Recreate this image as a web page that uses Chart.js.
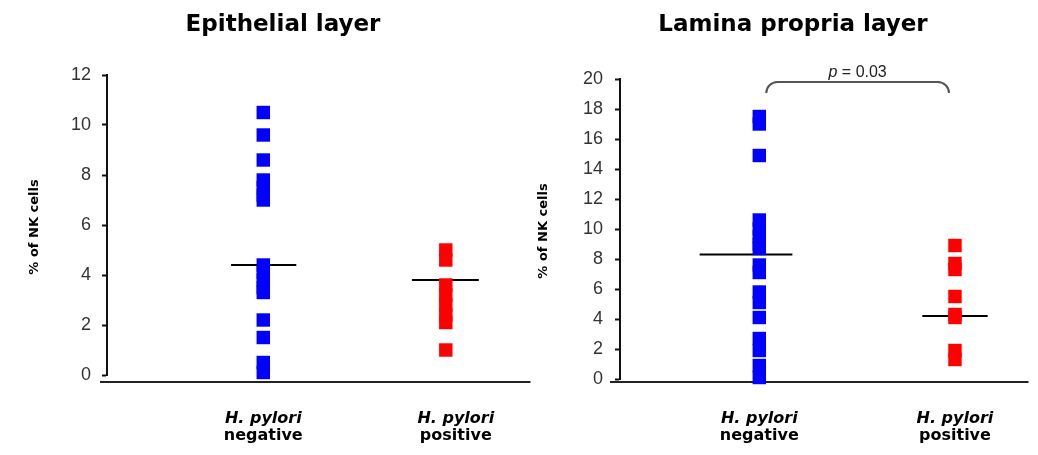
<!DOCTYPE html>
<html>
<head>
<meta charset="utf-8">
<script src="https://cdn.jsdelivr.net/npm/chart.js@4.4.0/dist/chart.umd.min.js"></script>
<style>
  body { margin: 0; background: #fff; }
  #wrap { position: relative; width: 1038px; height: 455px; }
  canvas { position: absolute; top: 0; }
</style>
</head>
<body>
<div id="wrap">
  <canvas id="epi" width="540" height="455" style="left:0"></canvas>
  <canvas id="lp" width="538" height="455" style="left:500px"></canvas>
</div>
<script>
// groups shown on both panels
const groups = ['negative', 'positive'];

// % of NK cells, epithelial layer
const epiNegative = [10.5, 9.6, 8.6, 7.8, 7.5, 7.2, 7.0, 4.4, 4.1, 3.8, 3.5, 3.3, 2.2, 1.5, 0.5, 0.1];
const epiPositive = [5.0, 4.6, 3.6, 3.2, 2.8, 2.4, 2.1, 1.0];
const epiMeans = [4.4, 3.8];
const epiTicks = [0, 2, 4, 6, 8, 10, 12];

// % of NK cells, lamina propria layer
const lpNegative = [17.5, 17.0, 14.9, 10.6, 10.0, 9.5, 9.0, 8.7, 7.6, 7.1, 5.8, 5.1, 4.1, 2.7, 1.9, 0.9, 0.1];
const lpPositive = [8.9, 7.7, 7.3, 5.5, 4.3, 4.1, 1.9, 1.3];
const lpMeans = [8.3, 4.2];
const lpTicks = [0, 2, 4, 6, 8, 10, 12, 14, 16, 18, 20];
const lpPValue = '0.03';

const colors = ['#0000ff', '#ff0000'];

// titles, axis labels, baseline and group labels drawn around each panel
const panelDecor = {
  id: 'panelDecor',
  beforeDatasetsDraw(chart, args, opts) {
    const ctx = chart.ctx;
    const area = chart.chartArea;
    ctx.save();
    ctx.strokeStyle = '#222';
    ctx.lineWidth = 2;
    ctx.beginPath();
    ctx.moveTo(opts.baseStart, area.bottom + opts.baseGap);
    ctx.lineTo(area.right, area.bottom + opts.baseGap);
    ctx.stroke();
    ctx.restore();
  },
  afterDraw(chart, args, opts) {
    const ctx = chart.ctx;
    const area = chart.chartArea;
    const x = chart.scales.x;
    ctx.save();
    ctx.fillStyle = '#000';
    ctx.textAlign = 'center';
    ctx.textBaseline = 'alphabetic';
    ctx.font = 'bold 23px "DejaVu Sans"';
    ctx.fillText(opts.title, opts.titleX, 31);

    ctx.save();
    ctx.translate(opts.yTitleX, (area.top + area.bottom) / 2 + 2);
    ctx.rotate(-Math.PI / 2);
    ctx.textBaseline = 'middle';
    ctx.font = 'bold 13px "DejaVu Sans"';
    ctx.fillText('% of NK cells', 0, 0);
    ctx.restore();

    groups.forEach((g, i) => {
      const px = x.getPixelForValue(opts.positions[i]) + (opts.labelShift ? opts.labelShift[i] : 0);
      ctx.font = 'italic bold 16px "DejaVu Sans"';
      ctx.fillText('H. pylori', px, 423);
      ctx.font = 'bold 16px "DejaVu Sans"';
      ctx.fillText(g, px, 440);
    });

    if (opts.pValue) {
      const x0 = x.getPixelForValue(opts.positions[0]) + 7;
      const x1 = x.getPixelForValue(opts.positions[1]) - 6;
      const top = area.top + 3;
      const r = 11;
      ctx.strokeStyle = '#555';
      ctx.lineWidth = 2;
      ctx.beginPath();
      ctx.moveTo(x0, top + r);
      ctx.arcTo(x0, top, x0 + r, top, r);
      ctx.lineTo(x1 - r, top);
      ctx.arcTo(x1, top, x1, top + r, r);
      ctx.stroke();
      const mid = (x0 + x1) / 2;
      ctx.fillStyle = '#222';
      ctx.font = '16px "Liberation Sans"';
      const rest = ' = ' + opts.pValue;
      const wRest = ctx.measureText(rest).width;
      ctx.font = 'italic 16px "Liberation Sans"';
      const wP = ctx.measureText('p').width;
      const start = mid - (wP + wRest) / 2;
      ctx.textAlign = 'left';
      ctx.fillText('p', start, top - 5);
      ctx.font = '16px "Liberation Sans"';
      ctx.fillText(rest, start + wP, top - 5);
    }
    ctx.restore();
  }
};

function buildPanel(canvasId, values, means, ticks, layout) {
  const datasets = [];
  values.forEach((vals, i) => {
    datasets.push({
      type: 'scatter',
      data: vals.map(v => ({ x: layout.positions[i], y: v })),
      backgroundColor: colors[i],
      borderWidth: 0,
      pointStyle: 'rect',
      pointRadius: 9.5,
      clip: false
    });
  });
  means.forEach((m, i) => {
    const p = layout.positions[i];
    const [a, b] = layout.meanSpan[i];
    datasets.push({
      type: 'line',
      data: [{ x: p + a, y: m }, { x: p + b, y: m }],
      borderColor: '#000',
      borderWidth: 2,
      pointRadius: 0,
      clip: false
    });
  });

  return new Chart(canvasId, {
    data: { datasets },
    options: {
      responsive: false,
      animation: false,
      layout: { padding: layout.padding },
      plugins: {
        legend: { display: false },
        tooltip: { enabled: false },
        panelDecor: layout.decor
      },
      scales: {
        x: { type: 'linear', min: 0, max: 1, display: false },
        y: {
          min: 0,
          max: ticks[ticks.length - 1],
          afterFit: s => { s.width = layout.yWidth; },
          afterBuildTicks: s => { s.ticks = ticks.map(v => ({ value: v })); },
          border: { display: true, color: '#111', width: 2 },
          grid: { drawOnChartArea: false, drawTicks: true, tickLength: 5, tickWidth: 2, tickColor: '#111' },
          ticks: {
            padding: layout.tickPad,
            color: '#333',
            font: { family: '"Liberation Sans"', size: 18 }
          }
        }
      }
    },
    plugins: [panelDecor]
  });
}

buildPanel('epi', [epiNegative, epiPositive], epiMeans, epiTicks, {
  positions: [0.369, 0.8],
  meanSpan: [[-0.076, 0.078], [-0.08, 0.078]],
  padding: { left: 0, top: 75, right: 8, bottom: 80 },
  yWidth: 107,
  tickPad: 11,
  decor: { title: 'Epithelial layer', titleX: 283, yTitleX: 35, baseStart: 100, baseGap: 7, positions: [0.369, 0.8], labelShift: [0, 10] }
});

buildPanel('lp', [lpNegative, lpPositive], lpMeans, lpTicks, {
  positions: [0.341, 0.82],
  meanSpan: [[-0.146, 0.081], [-0.08, 0.08]],
  padding: { left: 0, top: 79, right: 8, bottom: 76 },
  yWidth: 120,
  tickPad: 12,
  decor: { title: 'Lamina propria layer', titleX: 293, yTitleX: 44, baseStart: 110, baseGap: 3, positions: [0.341, 0.82], pValue: lpPValue }
});
</script>
</body>
</html>
